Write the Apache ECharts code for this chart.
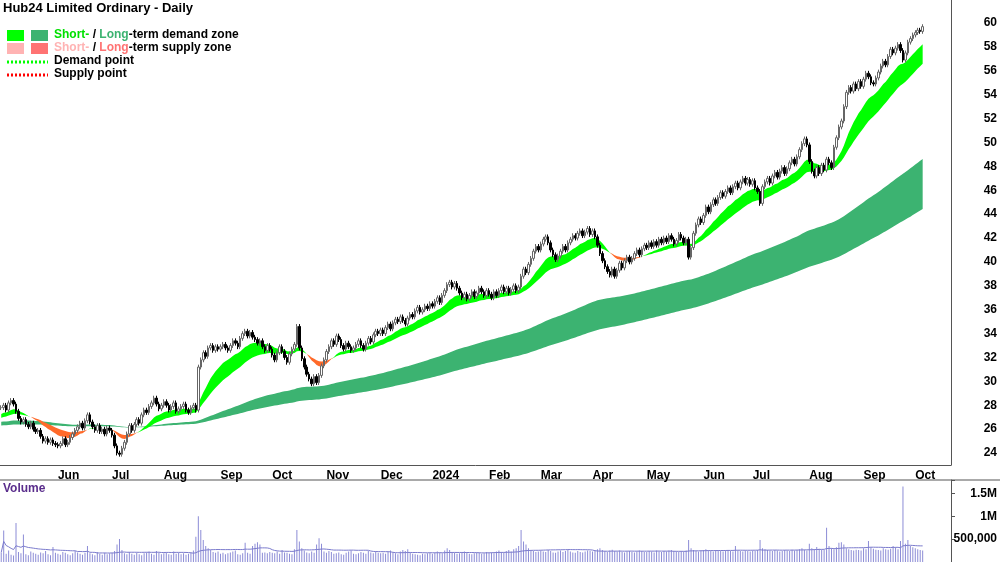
<!DOCTYPE html>
<html>
<head>
<meta charset="utf-8">
<script src="https://cdn.jsdelivr.net/npm/echarts@6/dist/echarts.min.js"></script>
<style>
  html, body { margin: 0; padding: 0; background: #fff; }
  #chart { width: 1000px; height: 562px; }
</style>
</head>
<body>
<div id="chart"></div>
<script>
// daily closes, one array per month (May 2023 .. Oct 2024)
var closeMay23 = [27.8,28.0,27.6,28.2,28.4,28.1,27.5,26.9,26.6,26.8,26.4,26.2,26.5,26.0,25.8,25.9,25.4,25.0,25.2,24.9,25.1,24.8,24.7];
var closeJun23 = [24.6,24.8,25.2,24.7,24.9,25.3,25.6,25.9,26.2,26.5,26.1,26.7,27.2,26.6,26.2,25.9,26.3,25.8,26.0,25.6,26.1,25.9];
var closeJul23 = [25.5,24.6,24.0,23.9,24.4,24.9,25.6,26.3,25.9,26.4,26.8,26.5,27.2,27.6,27.4,27.9,28.2,28.6,28.1,27.7,28.0];
var closeAug23 = [28.3,28.0,27.6,27.9,28.2,27.5,27.7,27.9,28.1,27.6,27.4,27.8,28.0,27.6,31.2,31.8,32.4,32.1,32.8,33.0,32.6,32.9,32.7];
var closeSep23 = [32.9,33.1,32.8,32.6,33.0,33.4,33.2,32.9,33.6,34.0,34.2,33.8,34.1,33.7,33.5,33.2,33.4,32.9,32.6,33.0,32.7];
var closeOct23 = [32.2,31.8,32.4,32.9,32.5,32.0,31.6,32.3,32.7,33.1,34.6,32.8,31.9,31.2,30.6,30.2,29.8,30.4,29.9,30.5,31.3,31.8];
var closeNov23 = [32.5,32.9,33.4,33.1,33.8,33.5,33.0,32.7,33.2,32.9,32.6,32.8,33.1,33.4,33.0,32.7,33.2,33.6,33.3,33.9,34.2,34.0];
var closeDec23 = [34.3,34.0,34.5,34.8,34.4,34.9,35.2,35.0,35.4,35.1,34.8,35.3,35.6,35.4,35.9,36.2,35.8,36.0,36.3,36.1,36.5];
var closeJan24 = [36.3,36.7,37.0,36.6,37.2,37.6,38.1,38.3,37.9,38.2,37.8,37.4,37.0,37.3,36.9,37.2,37.5,37.1,37.4,37.8,37.5,37.2,37.6];
var closeFeb24 = [37.3,37.0,37.5,37.2,37.6,37.9,37.5,37.8,37.4,37.7,38.0,37.6,37.9,38.8,39.4,39.1,39.8,40.3,40.9,41.3,41.0];
var closeMar24 = [41.5,41.9,42.1,41.6,41.0,40.6,40.2,40.5,40.9,41.3,41.0,41.6,41.9,42.2,42.0,42.4,42.6,42.2,42.5,42.8,42.3];
var closeApr24 = [42.6,42.1,41.4,40.7,40.1,39.6,39.2,38.9,39.4,38.8,39.3,39.9,39.5,40.1,40.4,40.0,40.3,40.7,41.0,40.6,41.1,41.4];
var closeMay24 = [41.2,41.6,41.3,41.7,41.4,41.9,41.6,42.0,41.7,42.2,41.9,41.5,41.8,42.3,42.0,41.6,41.9,40.4,41.2,42.4,43.1,43.6,43.3];
var closeJun24 = [43.9,44.6,44.2,44.8,45.2,44.9,45.4,45.8,45.5,45.9,46.2,45.8,46.3,46.6,46.2,46.7,47.0,46.6,46.9,46.5];
var closeJul24 = [46.8,46.2,45.9,44.9,46.3,46.7,47.0,46.6,47.2,47.5,47.1,47.6,47.9,47.4,47.8,48.3,48.6,48.2,48.8,49.4,49.9,50.3,49.8];
var closeAug24 = [48.4,47.6,47.2,47.9,47.4,48.1,47.7,48.6,48.3,47.9,49.6,50.4,51.3,51.8,53.0,54.2,54.6,54.3,54.9,54.5,55.1,54.7];
var closeSep24 = [55.3,55.8,55.5,55.0,54.9,55.4,55.9,56.4,56.8,56.5,57.2,57.8,57.5,57.9,58.2,57.7,56.9,57.5,58.4,58.7,59.0];
var closeOct24 = [59.2,59.4,59.3,59.7];

// daily volume in thousands
var volMay23 = [210,690,180,250,160,140,850,220,190,600,170,150,230,200,180,160,210,190,240,170,150,330,200];
var volJun23 = [180,160,220,200,170,150,190,240,210,180,160,200,350,190,170,150,220,180,160,200,170,190];
var volJul23 = [200,240,380,500,260,190,170,220,180,160,200,170,150,190,210,230,180,160,240,200,170];
var volAug23 = [190,210,170,160,230,180,200,170,190,160,180,210,250,550,1000,700,480,350,300,260,220,200,230];
var volSep23 = [180,200,170,190,210,230,250,170,160,190,420,200,180,350,400,430,380,200,210,190,220];
var volOct23 = [200,190,230,180,260,210,200,180,170,280,700,450,300,250,210,190,230,200,380,520,400,230];
var volNov23 = [200,240,220,180,190,210,170,160,200,230,250,180,170,190,220,200,180,240,210,190,230,200];
var volDec23 = [190,200,180,220,250,210,190,170,230,260,240,280,200,180,170,160,150,180,170,190,200];
var volJan24 = [180,200,230,210,190,250,300,260,220,200,180,190,210,230,200,180,170,190,210,200,180,190,220];
var volFeb24 = [200,210,190,230,250,220,200,240,260,230,280,300,350,700,450,380,300,260,240,220,230];
var volMar24 = [250,230,220,260,240,210,200,230,250,220,240,260,230,210,200,240,220,210,230,250,240];
var volApr24 = [230,250,280,300,260,240,220,250,270,240,230,250,220,210,230,240,220,210,230,250,240,220];
var volMay24 = [220,240,230,210,250,230,220,240,230,250,260,240,230,220,240,230,250,480,300,260,240,230,250];
var volJun24 = [260,280,250,240,230,260,250,240,230,250,260,240,230,350,250,240,230,250,240,230];
var volJul24 = [250,240,260,480,300,280,260,250,240,260,250,230,240,260,250,240,270,250,260,280,300,270,250];
var volAug24 = [400,300,280,330,290,270,260,750,350,300,280,320,420,430,380,300,280,260,250,270,260,250];
var volSep24 = [300,280,460,320,290,270,260,250,300,280,270,290,350,320,280,460,1650,400,480,350,320];
var volOct24 = [300,280,260,250];

var closes = [].concat(closeMay23, closeJun23, closeJul23, closeAug23, closeSep23, closeOct23,
  closeNov23, closeDec23, closeJan24, closeFeb24, closeMar24, closeApr24, closeMay24,
  closeJun24, closeJul24, closeAug24, closeSep24, closeOct24);
var volumes = [].concat(volMay23, volJun23, volJul23, volAug23, volSep23, volOct23,
  volNov23, volDec23, volJan24, volFeb24, volMar24, volApr24, volMay24,
  volJun24, volJul24, volAug24, volSep24, volOct24).map(function (v) { return v * 1000; });

var monthNames = ['Jan','Feb','Mar','Apr','May','Jun','Jul','Aug','Sep','Oct','Nov','Dec'];
var blankDays = 11; // empty space right of last bar

// weekday calendar starting 1 May 2023
var dates = [];
var monthStart = {};
var d = new Date(2023, 4, 1);
var lastMonth = -1;
while (dates.length < closes.length + blankDays) {
  var wd = d.getDay();
  if (wd !== 0 && wd !== 6) {
    if (d.getMonth() !== lastMonth) {
      if (dates.length < closes.length) {
        monthStart[dates.length] = d.getMonth() === 0 ? String(d.getFullYear()) : monthNames[d.getMonth()];
      }
      lastMonth = d.getMonth();
    }
    dates.push(d.getFullYear() + '-' + (d.getMonth() + 1) + '-' + d.getDate());
  }
  d.setDate(d.getDate() + 1);
}
delete monthStart[0];

// candles: open = previous close, small wicks
var candles = closes.map(function (c, i) {
  var o = i === 0 ? c : closes[i - 1];
  return [o, c, Math.min(o, c) - 0.2, Math.max(o, c) + 0.2];
});

function ema(arr, n, seed) {
  var k = 2 / (n + 1), out = [], prev = seed === undefined ? arr[0] : seed;
  arr.forEach(function (v) { prev = prev + k * (v - prev); out.push(+prev.toFixed(3)); });
  return out;
}
function sma(arr, n) {
  return arr.map(function (v, i) {
    var s = 0, c = 0;
    for (var j = Math.max(0, i - n + 1); j <= i; j++) { s += arr[j]; c++; }
    return s / c;
  });
}

function band(fast, slow) {
  var base = [], up = [], down = [];
  fast.forEach(function (f, i) {
    var s = slow[i];
    base.push(Math.min(f, s));
    up.push(f >= s ? f - s : 0);
    down.push(f < s ? s - f : 0);
  });
  return { base: base, up: up, down: down };
}

var shortBand = band(ema(closes, 15, 27.2), ema(closes, 30, 26.9));
var longBand = band(ema(closes, 140, 26.6), ema(closes, 240, 26.3));
var volMA = sma(volumes, 30);

function areaSeries(name, stack, data, color) {
  return {
    name: name, type: 'line', stack: stack, data: data, symbol: 'none',
    lineStyle: { width: 0 }, areaStyle: color ? { color: color, opacity: 1 } : undefined,
    silent: true, z: stack === 'long' ? 1 : 2
  };
}

var chart = echarts.init(document.getElementById('chart'));
var txt = { fontFamily: 'Liberation Sans', fontWeight: 'bold', fontSize: 12, color: '#000' };

chart.setOption({
  animation: false,
  textStyle: { fontFamily: 'Liberation Sans' },
  grid: [
    { left: 0, right: 48, top: 0, bottom: 97 },
    { left: 0, right: 48, top: 480, bottom: -4 }
  ],
  graphic: [
    { type: 'text', left: 3, top: 2, style: { text: 'Hub24 Limited Ordinary - Daily', font: 'bold 13px Liberation Sans', fill: '#000' } },
    { type: 'text', left: 3, top: 483, style: { text: 'Volume', font: 'bold 12px Liberation Sans', fill: '#5a2d8c' } },
    { type: 'rect', shape: { x: 7, y: 30, width: 17, height: 11 }, style: { fill: '#00ff00' } },
    { type: 'rect', shape: { x: 31, y: 30, width: 17, height: 11 }, style: { fill: '#3cb371' } },
    { type: 'rect', shape: { x: 7, y: 43, width: 17, height: 11 }, style: { fill: '#ffb3b3' } },
    { type: 'rect', shape: { x: 31, y: 43, width: 17, height: 11 }, style: { fill: '#ff7373' } },
    { type: 'line', shape: { x1: 7, y1: 62, x2: 48, y2: 62 }, style: { stroke: '#00ff00', lineWidth: 3, lineDash: [2, 2] } },
    { type: 'line', shape: { x1: 7, y1: 75, x2: 48, y2: 75 }, style: { stroke: '#ff0000', lineWidth: 3, lineDash: [2, 2] } },
    { type: 'text', left: 54, top: 29, style: { rich: {
      a: { fill: '#00e000', font: 'bold 12px Liberation Sans' },
      b: { fill: '#3cb371', font: 'bold 12px Liberation Sans' },
      c: { fill: '#000', font: 'bold 12px Liberation Sans' } },
      text: '{a|Short-}{c| / }{b|Long}{c|-term demand zone}' } },
    { type: 'text', left: 54, top: 42, style: { rich: {
      a: { fill: '#ffb3b3', font: 'bold 12px Liberation Sans' },
      b: { fill: '#ff7373', font: 'bold 12px Liberation Sans' },
      c: { fill: '#000', font: 'bold 12px Liberation Sans' } },
      text: '{a|Short-}{c| / }{b|Long}{c|-term supply zone}' } },
    { type: 'text', left: 54, top: 55, style: { text: 'Demand point', font: 'bold 12px Liberation Sans', fill: '#000' } },
    { type: 'text', left: 54, top: 68, style: { text: 'Supply point', font: 'bold 12px Liberation Sans', fill: '#000' } },
    { type: 'line', shape: { x1: 0, y1: 480, x2: 1000, y2: 480 }, style: { stroke: '#555', lineWidth: 1 } }
  ],
  xAxis: [
    {
      type: 'category', data: dates, gridIndex: 0, boundaryGap: true,
      axisLine: { lineStyle: { color: '#555' } },
      axisTick: { inside: true, length: 4, lineStyle: { color: '#555' }, interval: function (i) { return monthStart[i] !== undefined; } },
      axisLabel: Object.assign({}, txt, { align: 'left', margin: 5,
        interval: function (i) { return monthStart[i] !== undefined; },
        formatter: function (v, i) { return monthStart[i] || ''; } }),
      splitLine: { show: false }
    },
    {
      type: 'category', data: dates, gridIndex: 1, boundaryGap: true,
      axisLine: { show: false }, axisTick: { show: false }, axisLabel: { show: false }
    }
  ],
  yAxis: [
    {
      type: 'value', gridIndex: 0, position: 'right', min: 23, max: 61.93, interval: 1,
      axisLine: { show: true, lineStyle: { color: '#555' } },
      axisTick: { show: false },
      splitLine: { show: false },
      axisLabel: Object.assign({}, txt, { margin: 46, align: 'right',
        formatter: function (v) { return (v % 2 === 0 && v <= 60) ? String(v) : ''; } })
    },
    {
      type: 'value', gridIndex: 1, position: 'right', min: 0, max: 1791667, interval: 500000,
      axisLine: { show: true, lineStyle: { color: '#555' } },
      axisTick: { show: true, length: 4 },
      splitLine: { show: false },
      axisLabel: Object.assign({}, txt, { margin: 46, align: 'right',
        formatter: function (v) { return v === 500000 ? '500,000' : v === 1000000 ? '1M' : v === 1500000 ? '1.5M' : ''; } })
    }
  ],
  series: [
    areaSeries('longBase', 'long', longBand.base, null),
    areaSeries('longDemand', 'long', longBand.up, '#3cb371'),
    areaSeries('longSupply', 'long', longBand.down, '#ffb3b3'),
    areaSeries('shortBase', 'short', shortBand.base, null),
    areaSeries('shortDemand', 'short', shortBand.up, '#00ff00'),
    areaSeries('shortSupply', 'short', shortBand.down, '#ff6a2a'),
    {
      name: 'price', type: 'candlestick', data: candles, barWidth: 2, z: 5,
      itemStyle: { color: '#fff', color0: '#000', borderColor: '#666', borderColor0: '#000', borderWidth: 1 }
    },
    {
      name: 'volume', type: 'bar', xAxisIndex: 1, yAxisIndex: 1, data: volumes, barWidth: 1,
      itemStyle: { color: '#8c8cd6' }
    },
    {
      name: 'volMA', type: 'line', xAxisIndex: 1, yAxisIndex: 1, data: volMA, symbol: 'none',
      lineStyle: { color: '#7a7acc', width: 1 }
    }
  ]
});
</script>
</body>
</html>
